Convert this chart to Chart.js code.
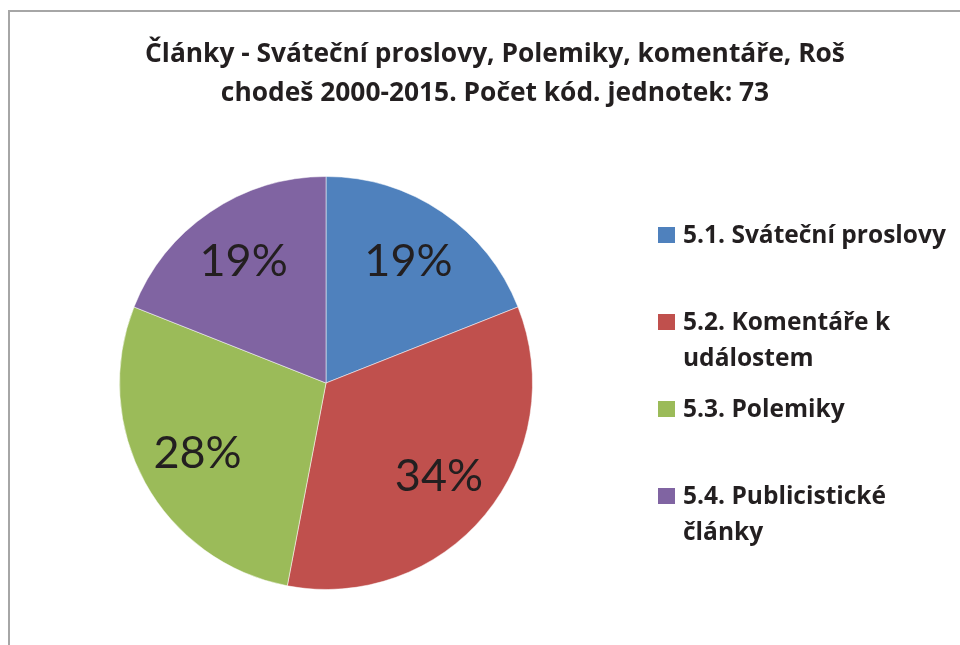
<!DOCTYPE html>
<html>
<head>
<meta charset="utf-8">
<script src="https://cdn.jsdelivr.net/npm/chart.js@4.4.1/dist/chart.umd.min.js"></script>
<style>
    html, body { margin: 0; padding: 0; background: #fff; }
    #wrap { position: relative; width: 960px; height: 645px; overflow: hidden; }
    #frame { position: absolute; left: 8px; top: 10px; width: 1000px; height: 700px;
             border: 2px solid #a6a6a6; box-sizing: border-box; }
    #chart { position: absolute; left: 0; top: 0; }
</style>
</head>
<body>
<div id="wrap">
    <div id="frame"></div>
    <canvas id="chart" width="960" height="645"></canvas>
</div>
<script>
const titleLines = [
    'Články - Sváteční proslovy, Polemiky, komentáře, Roš',
    'chodeš 2000-2015. Počet kód. jednotek: 73'
];
const categories = [
    '5.1. Sváteční proslovy',
    '5.2. Komentáře k událostem',
    '5.3. Polemiky',
    '5.4. Publicistické články'
];
const legendLines = [
    ['5.1. Sváteční proslovy'],
    ['5.2. Komentáře k', 'událostem'],
    ['5.3. Polemiky'],
    ['5.4. Publicistické', 'články']
];
const shares = [19, 34, 28, 19];
const colors = ['#4F81BD', '#C0504D', '#9BBB59', '#8064A2'];

const BOLD_FONT = '"Open Sans", Lato, sans-serif';
const LABEL_FONT = 'Lato, "Open Sans", sans-serif';

// pick a font size so that the text has the wanted width
function fitFont(ctx, text, weight, family, width) {
    ctx.font = weight + ' 100px ' + family;
    const size = 100 * width / ctx.measureText(text).width;
    return weight + ' ' + size.toFixed(2) + 'px ' + family;
}

// Percent labels inside the slices
const sliceLabels = {
    id: 'sliceLabels',
    afterDatasetsDraw(chart) {
        const ctx = chart.ctx;
        const meta = chart.getDatasetMeta(0);
        ctx.save();
        ctx.font = '45px ' + LABEL_FONT;
        ctx.fillStyle = '#231f20';
        ctx.textAlign = 'center';
        ctx.textBaseline = 'middle';
        meta.data.forEach((arc, i) => {
            const p = arc.getProps(['x', 'y', 'startAngle', 'endAngle', 'outerRadius'], true);
            const mid = (p.startAngle + p.endAngle) / 2;
            const r = p.outerRadius * 0.71;
            ctx.fillText(shares[i] + '%', p.x + Math.cos(mid) * r, p.y + Math.sin(mid) * r);
        });
        ctx.restore();
    }
};

// Title and legend drawn by hand so they can wrap like the original
const decorations = {
    id: 'decorations',
    afterDraw(chart) {
        const ctx = chart.ctx;
        ctx.save();
        ctx.fillStyle = '#231f20';
        ctx.textBaseline = 'alphabetic';

        ctx.font = fitFont(ctx, titleLines[0], 'bold', BOLD_FONT, 700);
        ctx.textAlign = 'center';
        titleLines.forEach((line, i) => ctx.fillText(line, 495, 62 + i * 39));

        ctx.font = fitFont(ctx, legendLines[0][0], 'bold', BOLD_FONT, 263);
        ctx.textAlign = 'left';
        legendLines.forEach((lines, i) => {
            const base = 243 + i * 87;
            ctx.fillStyle = colors[i];
            ctx.fillRect(658, base - 16, 17, 16);
            ctx.fillStyle = '#231f20';
            lines.forEach((t, j) => ctx.fillText(t, 683, base + j * 36));
        });
        ctx.restore();
    }
};

new Chart(document.getElementById('chart'), {
    type: 'pie',
    data: {
        labels: categories,
        datasets: [{
            data: shares,
            backgroundColor: colors,
            borderColor: 'rgba(255,255,255,0.5)',
            borderWidth: 1
        }]
    },
    options: {
        responsive: false,
        animation: false,
        layout: { padding: { left: 119, right: 427, top: 176, bottom: 55 } },
        plugins: {
            legend: { display: false },
            title: { display: false },
            tooltip: { enabled: false }
        }
    },
    plugins: [sliceLabels, decorations]
});
</script>
</body>
</html>
